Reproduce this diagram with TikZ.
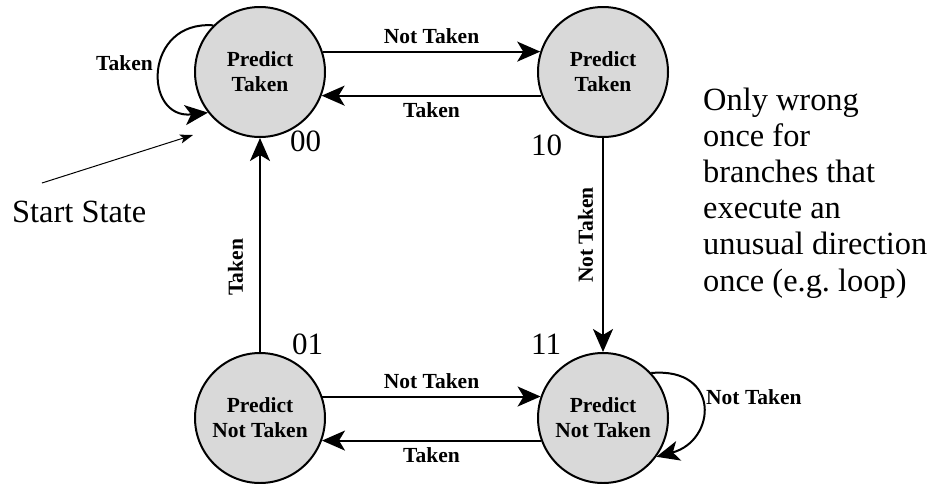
\documentclass[tikz,border=0pt]{standalone}
\usepackage{fontspec}
\setmainfont{Liberation Serif}
\usetikzlibrary{arrows.meta}

\begin{document}
\begin{tikzpicture}[x=1pt,y=-1pt,
  state/.style={circle,draw,line width=2pt,fill=black!15,minimum size=130pt,
    inner sep=0pt,align=center,font=\bfseries\fontsize{21.5}{25}\selectfont},
  trans/.style={line width=2pt,-{Stealth[length=23pt,width=20pt,inset=6pt]}},
  lbl/.style={font=\bfseries\fontsize{21.5}{25}\selectfont,inner sep=0pt},
  big/.style={font=\fontsize{32.4}{36}\selectfont,inner sep=0pt},
  code/.style={font=\fontsize{31}{36}\selectfont,inner sep=0pt,anchor=base west},
]
\useasboundingbox (0,0) rectangle (935,483);

% the four prediction states
\node[state] (A) at (260,72)  {Predict\\Taken};
\node[state] (B) at (603,72)  {Predict\\Taken};
\node[state] (C) at (260,418) {Predict\\Not Taken};
\node[state] (D) at (603,418) {Predict\\Not Taken};

% two-bit state codes
\node[code] (cA) at (290,151) {00};
\node[code] (cB) at (531,155) {10};
\node[code] (cC) at (292,354) {01};
\node[code] (cD) at (531,354) {11};

% horizontal transitions
\draw[trans] (A.18) -- node[lbl,above=7pt] (tAB) {Not Taken} (B.162);
\draw[trans] (B.-159) -- node[lbl,below=6pt] (tBA) {Taken} (A.-21);
\draw[trans] (C.19) -- node[lbl,above=7pt] (tCD) {Not Taken} (D.161);
\draw[trans] (D.-160) -- node[lbl,below=6pt] (tDC) {Taken} (C.-20);

% vertical transitions
\draw[trans] (C.north) -- node[lbl,rotate=90,anchor=south,outer ysep=17pt,pos=0.396] (tCA) {Taken} (A.south);
\draw[trans] (B.south) -- node[lbl,rotate=90,anchor=south,outer ysep=10pt,pos=0.454] (tBD) {Not Taken} (D.north);

% self loops
\draw[trans] (A.135) .. controls +(-70,-5) and +(-65,7) .. (A.218);
\node[lbl,anchor=east] (tAA) at (153,63) {Taken};
\draw[trans] (D.43) .. controls +(70,-6) and +(60,-16) .. (D.-36);
\node[lbl,anchor=west] (tDD) at (706,397) {Not Taken};

% start marker
\coordinate (s0) at (42,183);
\coordinate (s1) at (193,135);
\draw[line width=1pt,-{Stealth[length=13pt,width=9pt,inset=3pt]}] (s0) -- (s1);
\node[big,anchor=base west] (start) at (12,222) {Start State};

% side note
\foreach \t [count=\i from 0] in {Only wrong,once for,branches that,execute an,unusual direction,once (e.g.\ loop)}
  \node[big,anchor=base west] (note\i) at (703,110+36.2*\i) {\t};
\end{tikzpicture}
\end{document}
